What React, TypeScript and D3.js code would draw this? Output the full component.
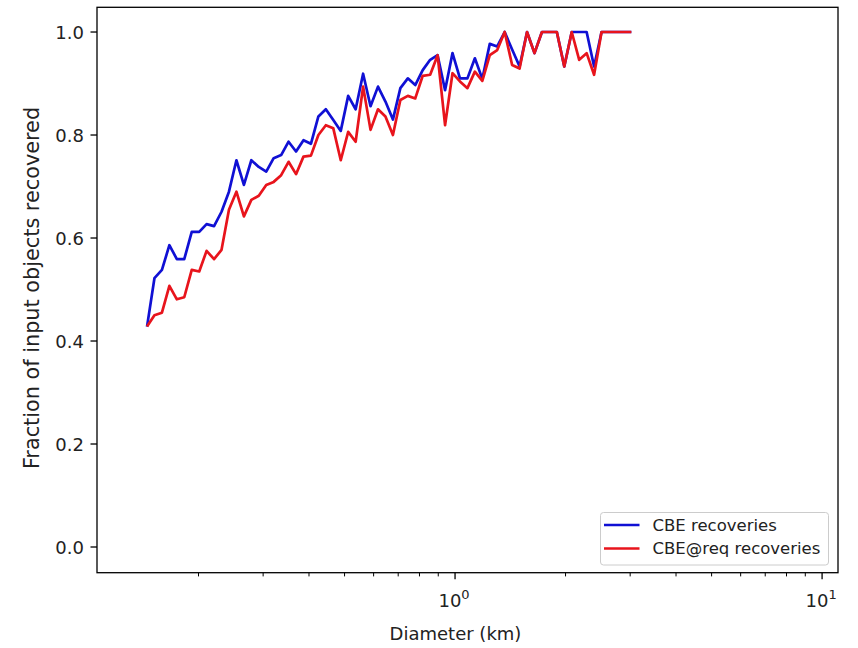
import React from 'react';
import * as d3 from 'd3';

// Bin centres (km)
const diameters = [
  0.1448, 0.1517, 0.159, 0.1666, 0.1746, 0.1829, 0.1917, 0.2009, 0.2104, 0.2205,
  0.2311, 0.2421, 0.2537, 0.2659, 0.2786, 0.2919, 0.3059, 0.3205, 0.3359, 0.3519,
  0.3688, 0.3864, 0.4049, 0.4243, 0.4446, 0.4659, 0.4882, 0.5115, 0.536, 0.5617,
  0.5885, 0.6167, 0.6462, 0.6772, 0.7096, 0.7435, 0.7791, 0.8164, 0.8555, 0.8964,
  0.9393, 0.9842, 1.0313, 1.0807, 1.1324, 1.1866, 1.2434, 1.3029, 1.3652, 1.4306,
  1.4991, 1.5708, 1.646, 1.7248, 1.8072, 1.8937, 1.9843, 2.0793, 2.1788, 2.283,
  2.3923, 2.5068, 2.6267, 2.7524, 2.884, 3.0221,
];

const cbeRecoveries = [
  0.428, 0.522, 0.538, 0.586, 0.559, 0.559, 0.612, 0.612, 0.627, 0.623,
  0.651, 0.69, 0.751, 0.703, 0.751, 0.738, 0.729, 0.755, 0.761, 0.787,
  0.768, 0.79, 0.783, 0.836, 0.85, 0.829, 0.808, 0.876, 0.85, 0.919,
  0.856, 0.894, 0.865, 0.83, 0.891, 0.91, 0.897, 0.926, 0.946, 0.955,
  0.887, 0.959, 0.91, 0.91, 0.949, 0.909, 0.977, 0.972, 1.0, 0.966,
  0.933, 1.0, 0.959, 1.0, 1.0, 1.0, 0.933, 1.0, 1.0, 1.0,
  0.933, 1.0, 1.0, 1.0, 1.0, 1.0,
];

const cbeReqRecoveries = [
  0.428, 0.45, 0.455, 0.507, 0.481, 0.485, 0.538, 0.535, 0.575, 0.559,
  0.577, 0.655, 0.69, 0.642, 0.674, 0.682, 0.703, 0.709, 0.722, 0.748,
  0.724, 0.758, 0.76, 0.8, 0.819, 0.813, 0.751, 0.806, 0.787, 0.894,
  0.81, 0.85, 0.836, 0.8, 0.868, 0.876, 0.871, 0.915, 0.917, 0.955,
  0.819, 0.92, 0.904, 0.891, 0.923, 0.905, 0.955, 0.965, 1.0, 0.936,
  0.929, 1.0, 0.959, 1.0, 1.0, 1.0, 0.933, 1.0, 0.946, 0.959,
  0.917, 1.0, 1.0, 1.0, 1.0, 1.0,
];

const seriesNames = ['CBE recoveries', 'CBE@req recoveries'];
const seriesColors = ['#1010d4', '#e8141c'];
const yTicks = [0, 0.2, 0.4, 0.6, 0.8, 1.0];
const xMajorTicks = [1, 10];
const xMajorExponents = ['0', '1'];
const xMinorTicks = [0.2, 0.3, 0.4, 0.5, 0.6, 0.7, 0.8, 0.9, 2, 3, 4, 5, 6, 7, 8, 9];
const xLabel = 'Diameter (km)';
const yLabel = 'Fraction of input objects recovered';

export default function App() {
  const W = 858;
  const H = 648;
  const left = 97;
  const right = 838;
  const top = 7.3;
  const bottom = 572.7;
  const font = 'DejaVu Sans, sans-serif';

  const x = d3.scaleLog().domain([0.1058, 11.05]).range([left, right]);
  const y = d3.scaleLinear().domain([-0.0499, 1.048]).range([bottom, top]);

  const mkLine = (vals: number[]) =>
    d3
      .line<number>()
      .x((_, i) => x(diameters[i]))
      .y((d) => y(d))(vals) as string;

  const series = [cbeRecoveries, cbeReqRecoveries];

  const legX = 600.5;
  const legY = 512.5;
  const legW = 228;
  const legH = 52.5;

  return (
    <div style={{ position: 'absolute', left: 0, top: 0 }}>
      <svg width={W} height={H} style={{ display: 'block', background: '#fff' }}>
        <defs>
          <clipPath id="plotArea">
            <rect x={left} y={top} width={right - left} height={bottom - top} />
          </clipPath>
        </defs>
        <rect x={0} y={0} width={W} height={H} fill="#fff" />

        {/* data lines */}
        <g clipPath="url(#plotArea)">
          {series.map((vals, k) => (
            <path
              key={k}
              d={mkLine(vals)}
              fill="none"
              stroke={seriesColors[k]}
              strokeWidth={2.7}
              strokeLinejoin="round"
              strokeLinecap="butt"
            />
          ))}
        </g>

        {/* frame */}
        <rect
          x={left}
          y={top}
          width={right - left}
          height={bottom - top}
          fill="none"
          stroke="#000"
          strokeWidth={1.3}
        />

        {/* y ticks */}
        {yTicks.map((t) => (
          <g key={t}>
            <line x1={left - 6.5} x2={left} y1={y(t)} y2={y(t)} stroke="#000" strokeWidth={1.3} />
            <text
              x={left - 13}
              y={y(t)}
              textAnchor="end"
              dominantBaseline="central"
              fontFamily={font}
              fontSize={18}
              fill="#222"
            >
              {t.toFixed(1)}
            </text>
          </g>
        ))}

        {/* x minor ticks */}
        {xMinorTicks.map((t) => (
          <line key={t} x1={x(t)} x2={x(t)} y1={bottom} y2={bottom + 3.7} stroke="#000" strokeWidth={1} />
        ))}
        {/* x major ticks */}
        {xMajorTicks.map((t, i) => (
          <g key={t}>
            <line x1={x(t)} x2={x(t)} y1={bottom} y2={bottom + 6.5} stroke="#000" strokeWidth={1.3} />
            <text x={x(t) - 1} y={bottom + 34} textAnchor="middle" fontFamily={font} fontSize={18} fill="#222">
              10
              <tspan fontSize={13} dy={-8}>
                {xMajorExponents[i]}
              </tspan>
            </text>
          </g>
        ))}

        {/* axis labels */}
        <text
          x={(left + right) / 2 - 12}
          y={640}
          textAnchor="middle"
          fontFamily={font}
          fontSize={18}
          fill="#222"
        >
          {xLabel}
        </text>
        <text
          transform={`translate(38.5, 288) rotate(-90)`}
          textAnchor="middle"
          fontFamily={font}
          fontSize={20.8}
          fill="#222"
        >
          {yLabel}
        </text>

        {/* legend */}
        <rect
          x={legX}
          y={legY}
          width={legW}
          height={legH}
          rx={3}
          fill="#fff"
          fillOpacity={0.8}
          stroke="#cccccc"
          strokeWidth={1}
        />
        {seriesNames.map((name, k) => (
          <g key={name}>
            <line
              x1={legX + 3.5}
              x2={legX + 39}
              y1={legY + 12.5 + k * 23.5}
              y2={legY + 12.5 + k * 23.5}
              stroke={seriesColors[k]}
              strokeWidth={2.7}
            />
            <text
              x={legX + 52}
              y={legY + 12.5 + k * 23.5}
              dominantBaseline="central"
              fontFamily={font}
              fontSize={16.5}
              fill="#222"
            >
              {name}
            </text>
          </g>
        ))}
      </svg>
    </div>
  );
}
